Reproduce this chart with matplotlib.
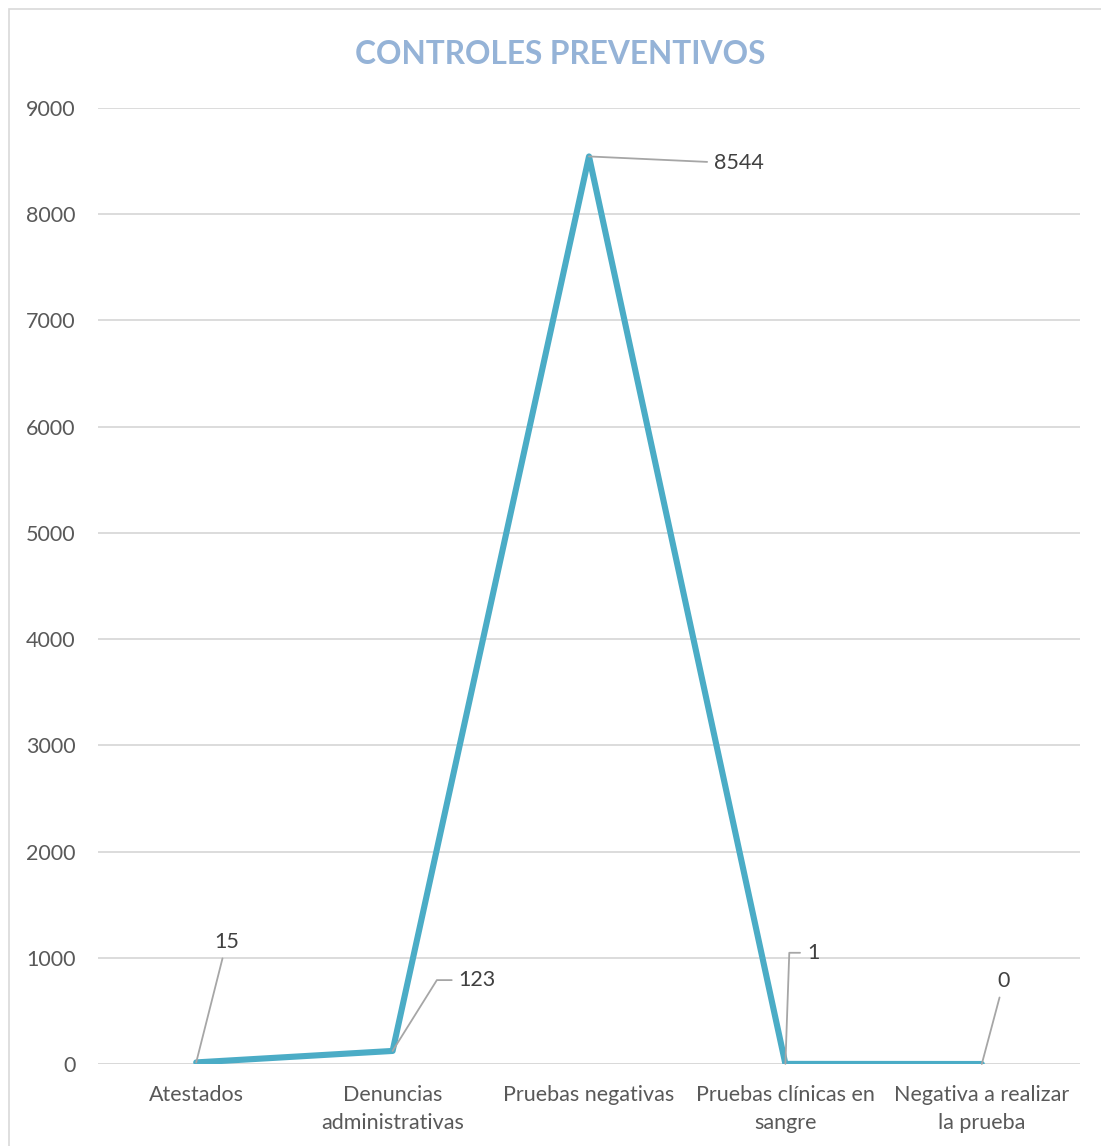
import matplotlib
matplotlib.use('Agg')
import matplotlib.pyplot as plt
from matplotlib.patches import Rectangle

# data
categories = ['Atestados', 'Denuncias\nadministrativas', 'Pruebas negativas',
              'Pruebas clínicas en\nsangre', 'Negativa a realizar\nla prueba']
values = [15, 123, 8544, 1, 0]
y_ticks = [0, 1000, 2000, 3000, 4000, 5000, 6000, 7000, 8000, 9000]

# label offsets (points) and leader connection styles
label_offsets = [(22, 87), (61, 51), (108, -5), (20, 80), (16, 60)]
label_conn = ['arc3', 'angle,angleA=0,angleB=58,rad=0', 'arc3',
              'angle,angleA=0,angleB=88,rad=0', 'arc3']

plt.rcParams['font.family'] = ['Lato', 'DejaVu Sans']
text_color = '#595959'
grid_color = '#D9D9D9'
line_color = '#4BACC6'

fig = plt.figure(figsize=(11.01, 11.46), dpi=100)
fig.patches.append(Rectangle((9 / 1101, -0.5), 2, 1.5 - 9 / 1146, transform=fig.transFigure,
                             fill=False, edgecolor=grid_color, linewidth=1.2))
ax = fig.add_axes([98 / 1101, 1 - 1064 / 1146, (1080 - 98) / 1101, (1064 - 108) / 1146])

x = list(range(len(categories)))
ax.plot(x, values, color=line_color, linewidth=4.4, solid_joinstyle='round',
        solid_capstyle='round', zorder=3)

for i, v in enumerate(values):
    ax.annotate(str(v), xy=(i, v), xytext=label_offsets[i], textcoords='offset points',
                ha='center', va='center', fontsize=15.5, color='#404040',
                arrowprops=dict(arrowstyle='-', color='#A6A6A6', lw=1.3,
                                shrinkA=3, shrinkB=0, connectionstyle=label_conn[i]),
                zorder=4)

ax.set_xlim(-0.5, len(categories) - 0.5)
ax.set_ylim(0, 9000)
ax.set_yticks(y_ticks)
ax.set_yticklabels([str(t) for t in y_ticks])
ax.set_xticks(x)
ax.set_xticklabels(categories, linespacing=1.5)
ax.tick_params(axis='both', length=0, labelsize=15.5, labelcolor=text_color)
ax.tick_params(axis='y', pad=16)
ax.tick_params(axis='x', pad=15)
ax.grid(axis='y', color=grid_color, linewidth=1.3)
ax.set_axisbelow(True)
for s in ax.spines.values():
    s.set_visible(False)
ax.axhline(0, color=grid_color, linewidth=1.3, zorder=1)

fig.text(560 / 1101, 1 - 54 / 1146, 'CONTROLES PREVENTIVOS', ha='center', va='center',
         fontsize=22.8, fontweight='bold', color='#95B3D7')

fig.savefig('out.png', dpi=100)
